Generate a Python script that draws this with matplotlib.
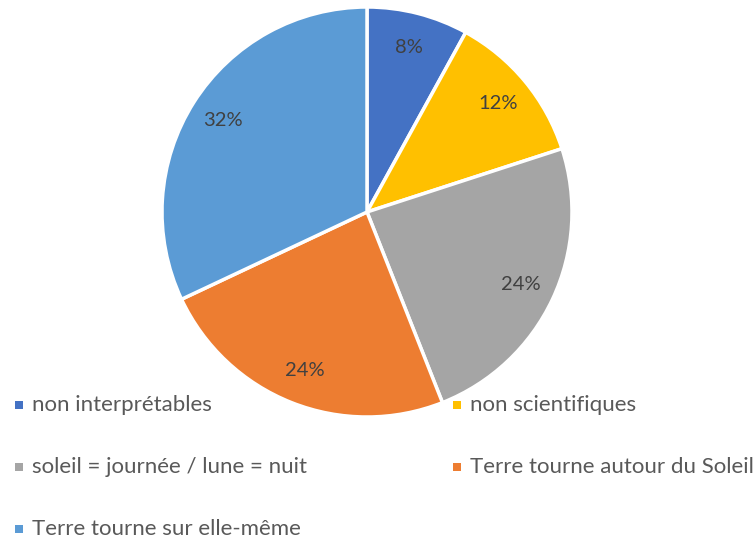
import matplotlib.pyplot as plt
from matplotlib.patches import Rectangle

categories = ["non interprétables", "non scientifiques", "soleil = journée / lune = nuit",
              "Terre tourne autour du Soleil", "Terre tourne sur elle-même"]
values = [8, 12, 24, 24, 32]
colors = ["#4472C4", "#FFC000", "#A5A5A5", "#ED7D31", "#5B9BD5"]

W, H = 755, 542
fig = plt.figure(figsize=(W / 100, H / 100), dpi=100, facecolor="white")
plt.rcParams['font.family'] = ['Lato', 'DejaVu Sans']

cx, cy, r = 367, 212, 205
ax = fig.add_axes([(cx - r) / W, (H - cy - r) / H, 2 * r / W, 2 * r / H])
wedges, texts, autotexts = ax.pie(values, colors=colors, startangle=90, counterclock=False,
                                  autopct=lambda p: "%d%%" % round(p), pctdistance=0.83,
                                  wedgeprops=dict(edgecolor="white", linewidth=2.5),
                                  textprops=dict(color="#404040", fontsize=14.5))
ax.set_aspect("auto")
ax.set_xlim(-1, 1)
ax.set_ylim(-1, 1)

# legend, two columns
leg_pos = [(15, 405), (453, 405), (15, 467), (453, 467), (15, 529)]
for (x, y), lab, col in zip(leg_pos, categories, colors):
    fig.add_artist(Rectangle((x / W, (H - y - 4) / H), 8 / W, 8 / H, transform=fig.transFigure,
                             facecolor=col, edgecolor="none"))
    fig.text((x + 17) / W, (H - y) / H, lab, fontsize=16, color="#595959", va="center", ha="left")

plt.savefig("out.png", dpi=100)
